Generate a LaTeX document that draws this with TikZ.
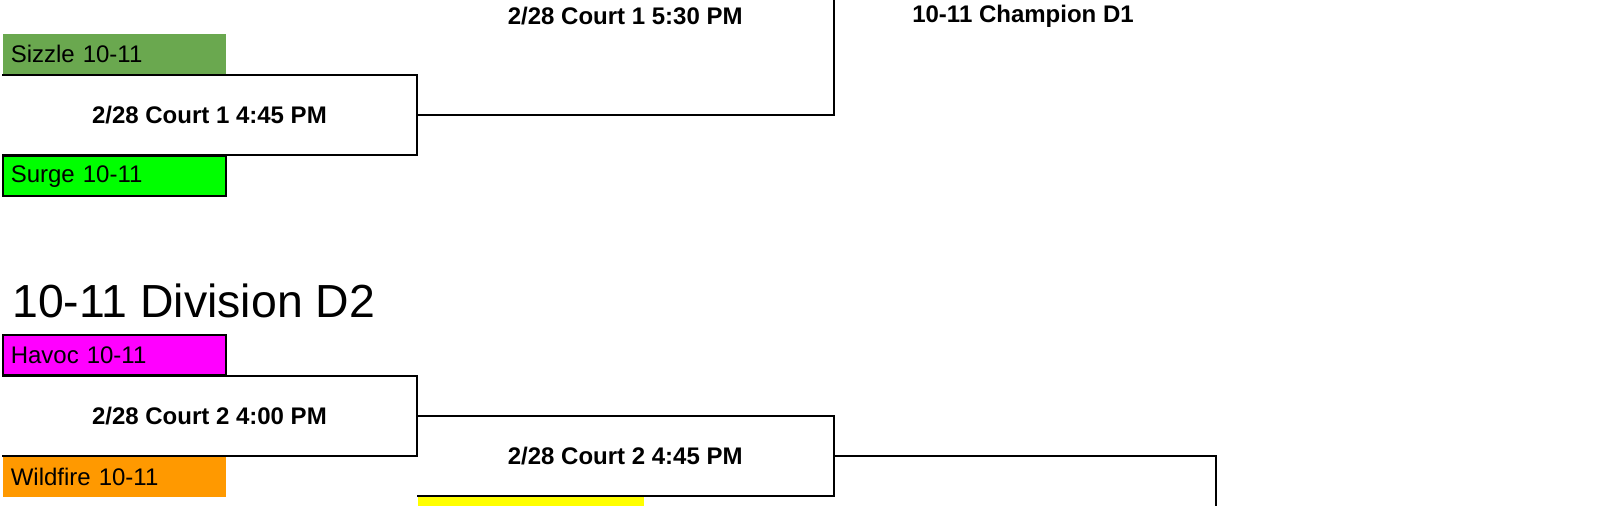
\documentclass[tikz,border=0pt]{standalone}
\usepackage{fontspec}
\setmainfont{Liberation Sans}
\usetikzlibrary{positioning}
\definecolor{sizzle}{RGB}{106,168,79}
\definecolor{surge}{RGB}{0,255,0}
\definecolor{havoc}{RGB}{255,0,255}
\definecolor{wildfire}{RGB}{255,153,0}
\definecolor{tbd}{RGB}{255,255,0}
\tikzstyle{team} = [rectangle, anchor=north west, minimum width=111.5pt, minimum height=20pt, inner xsep=4pt, inner ysep=0pt, text width=103.5pt, align=left, line width=0.8pt, font=\fontsize{12pt}{14pt}\selectfont]
\tikzstyle{game} = [rectangle, minimum width=207pt, minimum height=40pt, inner sep=0pt, font=\bfseries\fontsize{12pt}{14pt}\selectfont]
\tikzstyle{wire} = [draw, line width=1pt]
\tikzstyle{divtitle} = [inner sep=0pt, font=\fontsize{23.2pt}{27pt}\selectfont]

\begin{document}
\begin{tikzpicture}[x=0.5pt,y=-0.5pt]
  \useasboundingbox (0,0) rectangle (1600,505);
  \node [team, fill=sizzle] (sizzle) at (2,33) {Sizzle 10-11};
  \node [game, below=0pt of sizzle.south west, anchor=north west] (courtA) {2/28 Court 1 4:45 PM};
  \node [team, draw, fill=surge, below=0pt of courtA.south west, anchor=north west] (surge) {Surge 10-11};
  \node [game, anchor=south west, minimum width=208pt, minimum height=99pt] (courtB) at (courtA.east) {2/28 Court 1 5:30 PM};
  \node [game] (champ) at (1023,16) {10-11 Champion D1};
  \node [divtitle, anchor=base west] (division) at (12,317) {10-11 Division D2};
  \node [team, draw, fill=havoc] (havoc) at (2,334) {Havoc 10-11};
  \node [game, below=0pt of havoc.south west, anchor=north west] (courtC) {2/28 Court 2 4:00 PM};
  \node [team, fill=wildfire, below=0pt of courtC.south west, anchor=north west] (wildfire) {Wildfire 10-11};
  \node [game, anchor=north west, minimum width=208pt, minimum height=39.5pt] (courtD) at (courtC.east) {2/28 Court 2 4:45 PM};
  \node [team, fill=tbd, minimum width=113pt] (open) at (courtD.south west) {};
  \node [game, anchor=north west, minimum width=191pt, minimum height=100pt] (final) at (courtD.east) {};
  \draw [wire] (courtA.north west) -- (courtA.north east) -- (courtA.south east) -- (courtA.south west);
  \draw [wire] (courtA.east) -- (courtB.south east) -- (courtB.north east);
  \draw [wire] (courtC.north west) -- (courtC.north east) -- (courtC.south east) -- (courtC.south west);
  \draw [wire] (courtC.east) -- (courtD.north east) -- (courtD.south east) -- (courtD.south west);
  \draw [wire] (courtD.east) -- (final.north east) -- (final.south east);
\end{tikzpicture}
\end{document}
